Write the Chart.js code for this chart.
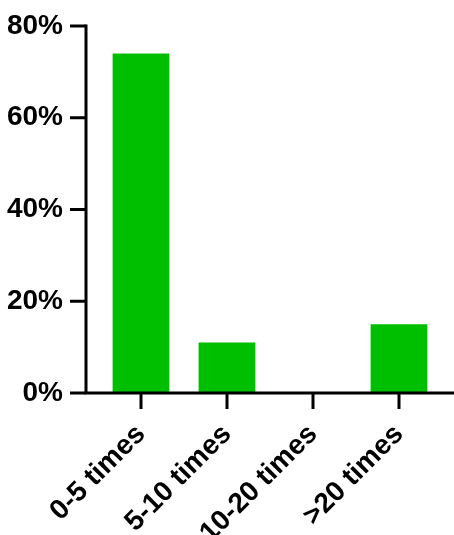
<!DOCTYPE html>
<html>
<head>
<meta charset="utf-8">
<script src="https://cdn.jsdelivr.net/npm/chart.js@4"></script>
<style>
  body { margin: 0; background: #fff; }
  #wrap { width: 454px; height: 535px; position: relative; }
</style>
</head>
<body>
<div id="wrap"><canvas id="myChart"></canvas></div>
<script>
// data
const categories = ["0-5 times", "5-10 times", "10-20 times", ">20 times"];
const percentValues = [74, 11, 0, 15];
const yTicks = [0, 20, 40, 60, 80];

const AXIS_GAP = 12; // axis lines sit a bit outside the plot area
const TICK_LEN = 16;

// draw the axis lines and tick marks like the original (detached from the bars)
const axisLines = {
    id: "axisLines",
    afterDraw(chart) {
        const ctx = chart.ctx;
        const area = chart.chartArea;
        const x = chart.scales.x;
        const y = chart.scales.y;
        const ax = area.left - AXIS_GAP;
        ctx.save();
        ctx.strokeStyle = "#000";
        ctx.lineWidth = 3;
        ctx.lineCap = "butt";
        ctx.beginPath();
        ctx.moveTo(ax, y.getPixelForValue(80) - 1.5);
        ctx.lineTo(ax, area.bottom);
        ctx.stroke();
        ctx.beginPath();
        ctx.moveTo(ax - 1.5, area.bottom);
        ctx.lineTo(chart.width, area.bottom);
        ctx.stroke();
        yTicks.forEach(v => {
            const py = y.getPixelForValue(v);
            ctx.beginPath();
            ctx.moveTo(ax - TICK_LEN, py);
            ctx.lineTo(ax, py);
            ctx.stroke();
        });
        categories.forEach((c, i) => {
            const px = x.getPixelForValue(i);
            ctx.beginPath();
            ctx.moveTo(px, area.bottom);
            ctx.lineTo(px, area.bottom + TICK_LEN);
            ctx.stroke();
        });
        ctx.restore();
    }
};

const ctx = document.getElementById("myChart").getContext("2d");
new Chart(ctx, {
    type: "bar",
    data: {
        labels: categories,
        datasets: [{
            data: percentValues,
            backgroundColor: "#00bf00",
            borderWidth: 0,
            barPercentage: 0.66,
            categoryPercentage: 1
        }]
    },
    options: {
        responsive: true,
        maintainAspectRatio: false,
        animation: false,
        layout: { padding: { top: 26, right: 12, left: 0, bottom: 0 } },
        plugins: { legend: { display: false }, tooltip: { enabled: false } },
        scales: {
            x: {
                grid: { display: false, drawTicks: true, tickLength: 20 },
                border: { display: false },
                afterFit: s => { s.height = 142; },
                ticks: {
                    color: "#000",
                    font: { family: "Liberation Sans, Arial", size: 28, weight: "bold" },
                    minRotation: 45,
                    maxRotation: 45,
                    padding: 5
                }
            },
            y: {
                min: 0,
                max: 80,
                grid: { display: false, drawTicks: true, tickLength: 35 },
                border: { display: false },
                afterFit: s => { s.width = 98; },
                afterBuildTicks: s => { s.ticks = yTicks.map(v => ({ value: v })); },
                ticks: {
                    color: "#000",
                    font: { family: "Liberation Sans, Arial", size: 28, weight: "bold" },
                    padding: 0,
                    callback: v => v + "%"
                }
            }
        }
    },
    plugins: [axisLines]
});
</script>
</body>
</html>
